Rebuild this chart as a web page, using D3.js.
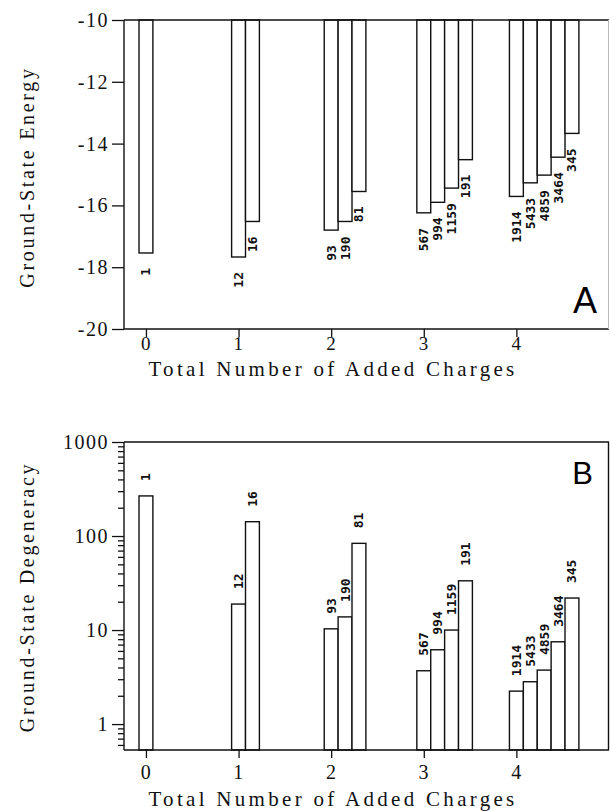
<!DOCTYPE html>
<html>
<head>
<meta charset="utf-8">
<script src="https://cdn.jsdelivr.net/npm/d3@7"></script>
<style>
  body { margin: 0; background: #fff; }
  svg { display: block; }
</style>
</head>
<body>
<svg id="chart"></svg>
<script>
// charges added, one group per value
const groups = [0, 1, 2, 3, 4];
// bar labels inside each group
const barLabels = [
    ["1"],
    ["12", "16"],
    ["93", "190", "81"],
    ["567", "994", "1159", "191"],
    ["1914", "5433", "4859", "3464", "345"]
];
// panel A: ground-state energy
const energy = [
    [-17.54],
    [-17.67, -16.52],
    [-16.80, -16.52, -15.55],
    [-16.24, -15.90, -15.44, -14.52],
    [-15.71, -15.27, -15.02, -14.44, -13.67]
];
// panel B: ground-state degeneracy
const degeneracy = [
    [267],
    [18.9, 142],
    [10.3, 13.8, 83.6],
    [3.69, 6.17, 10.0, 33.4],
    [2.24, 2.82, 3.75, 7.5, 21.9]
];
const energyTicks = [-20, -18, -16, -14, -12, -10];
const degenTicks = [1, 10, 100, 1000];
const xTitle = "Total Number of Added Charges";

const W = 610, H = 811;
const barStep = 0.15;
const SERIF = '"Liberation Serif", "DejaVu Serif", "Times New Roman", serif';
const MONO = '"DejaVu Sans Mono", "Liberation Mono", monospace';
const SANS = '"Liberation Sans", Arial, sans-serif';

const svg = d3.select("#chart").attr("width", W).attr("height", H);

// flatten into rows
const rows = [];
groups.forEach((g, gi) => {
    barLabels[gi].forEach((lab, i) => {
        rows.push({ g: g, i: i, label: lab, e: energy[gi][i], d: degeneracy[gi][i] });
    });
});

const xscale = d3.scaleLinear().domain([-0.237, 5.0]).range([124, 609]);
const bw = xscale(barStep) - xscale(0);
const cx = d => xscale(d.g + d.i * barStep);

function barLabel(sel) {
    sel.style("font-family", MONO)
        .style("font-size", "13px")
        .style("font-weight", "bold")
        .attr("fill", "#111");
}

function serifText(sel, size, spacing) {
    sel.style("font-family", SERIF)
        .style("font-size", size + "px")
        .style("letter-spacing", spacing + "px")
        .attr("fill", "#111");
}

// ---------- panel A ----------
const yA = d3.scaleLinear().domain([-20, -10]).range([329, 20]);
const pA = svg.append("g");

pA.selectAll(".bar")
    .data(rows)
    .join("rect")
    .attr("class", "bar")
    .attr("x", d => cx(d) - bw / 2)
    .attr("y", yA(-10))
    .attr("width", bw)
    .attr("height", d => yA(d.e) - yA(-10))
    .attr("fill", "#fff")
    .attr("stroke", "#111")
    .attr("stroke-width", 1.4);

pA.selectAll(".lbl")
    .data(rows)
    .join("text")
    .attr("class", "lbl")
    .attr("transform", d => `translate(${cx(d)},${yA(d.e) + 15}) rotate(-90)`)
    .attr("text-anchor", "end")
    .attr("dominant-baseline", "central")
    .call(barLabel)
    .text(d => d.label);

// frame
const fA = pA.append("g").attr("fill", "none").attr("stroke", "#111").attr("stroke-width", 1.4);
fA.append("line").attr("x1", 124).attr("x2", 609).attr("y1", yA(-10)).attr("y2", yA(-10));
fA.append("line").attr("x1", 124).attr("x2", 609).attr("y1", yA(-20)).attr("y2", yA(-20));
fA.append("line").attr("x1", 124).attr("x2", 124).attr("y1", yA(-10)).attr("y2", yA(-20));
fA.append("line").attr("x1", 608.5).attr("x2", 608.5).attr("y1", yA(-10)).attr("y2", yA(-20))
    .attr("stroke", "#bbb").attr("stroke-width", 1);

const yaxisA = pA.append("g").attr("transform", "translate(124,0)")
    .call(d3.axisLeft(yA).tickValues(energyTicks).tickSize(12).tickSizeOuter(0).tickFormat(d => String(d)));
const xaxisA = pA.append("g").attr("transform", `translate(0,${yA(-20)})`)
    .call(d3.axisBottom(xscale).tickValues(groups).tickSize(8).tickPadding(0).tickSizeOuter(0).tickFormat(d => String(d)));

pA.append("text")
    .attr("x", 333).attr("y", 376)
    .attr("text-anchor", "middle")
    .call(serifText, 21, 3.3)
    .text(xTitle);

pA.append("text")
    .attr("transform", "translate(27,177) rotate(-90)")
    .attr("text-anchor", "middle")
    .attr("dominant-baseline", "central")
    .call(serifText, 20, 2.7)
    .text("Ground-State Energy");

pA.append("text")
    .attr("x", 597).attr("y", 313)
    .attr("text-anchor", "end")
    .style("font-family", SANS)
    .style("font-size", "36px")
    .text("A");

// ---------- panel B ----------
const yB = d3.scaleLog().domain([0.53, 1000]).range([750, 442]);
const pB = svg.append("g");

pB.selectAll(".bar")
    .data(rows)
    .join("rect")
    .attr("class", "bar")
    .attr("x", d => cx(d) - bw / 2)
    .attr("y", d => yB(d.d))
    .attr("width", bw)
    .attr("height", d => yB(0.53) - yB(d.d))
    .attr("fill", "#fff")
    .attr("stroke", "#111")
    .attr("stroke-width", 1.4);

pB.selectAll(".lbl")
    .data(rows)
    .join("text")
    .attr("class", "lbl")
    .attr("transform", d => `translate(${cx(d)},${yB(d.d) - 15}) rotate(-90)`)
    .attr("text-anchor", "start")
    .attr("dominant-baseline", "central")
    .call(barLabel)
    .text(d => d.label);

const fB = pB.append("g").attr("fill", "none").attr("stroke", "#111").attr("stroke-width", 1.4);
fB.append("line").attr("x1", 124).attr("x2", 609).attr("y1", yB(1000)).attr("y2", yB(1000));
fB.append("line").attr("x1", 124).attr("x2", 609).attr("y1", yB(0.53)).attr("y2", yB(0.53));
fB.append("line").attr("x1", 124).attr("x2", 124).attr("y1", yB(1000)).attr("y2", yB(0.53));
fB.append("line").attr("x1", 608.5).attr("x2", 608.5).attr("y1", yB(1000)).attr("y2", yB(0.53));

// minor ticks for the log axis
const minor = yB.ticks().filter(t => !degenTicks.includes(t));
pB.append("g").attr("transform", "translate(124,0)")
    .call(d3.axisLeft(yB).tickValues(minor).tickSize(6).tickSizeOuter(0).tickFormat(""));
const yaxisB = pB.append("g").attr("transform", "translate(124,0)")
    .call(d3.axisLeft(yB).tickValues(degenTicks).tickSize(12).tickSizeOuter(0).tickFormat(d => String(d)));
const xaxisB = pB.append("g").attr("transform", `translate(0,${yB(0.53)})`)
    .call(d3.axisBottom(xscale).tickValues(groups).tickSize(8).tickSizeOuter(0).tickFormat(d => String(d)));

pB.append("text")
    .attr("x", 333).attr("y", 806)
    .attr("text-anchor", "middle")
    .call(serifText, 21, 3.3)
    .text(xTitle);

pB.append("text")
    .attr("transform", "translate(27,597) rotate(-90)")
    .attr("text-anchor", "middle")
    .attr("dominant-baseline", "central")
    .call(serifText, 20, 2.7)
    .text("Ground-State Degeneracy");

pB.append("text")
    .attr("x", 593).attr("y", 484)
    .attr("text-anchor", "end")
    .style("font-family", SANS)
    .style("font-size", "31px")
    .text("B");

// axis styling
svg.selectAll(".domain").remove();
svg.selectAll(".tick line").attr("stroke", "#111").attr("stroke-width", 1.3);
svg.selectAll(".tick text").call(serifText, 20, 1.5);
xaxisA.selectAll(".tick text").call(serifText, 19, 1.5).attr("dy", "0.71em");
xaxisB.selectAll(".tick text").attr("dy", "0.9em");
</script>
</body>
</html>
